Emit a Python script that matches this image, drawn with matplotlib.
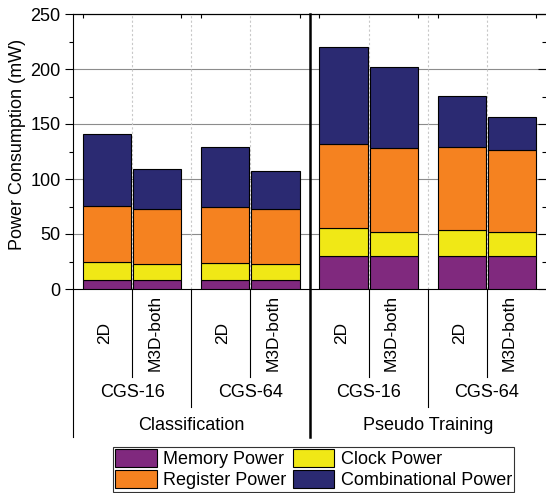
import matplotlib
matplotlib.use("Agg")
import matplotlib.pyplot as plt
import matplotlib.transforms as mtransforms
from matplotlib.patches import Patch
import numpy as np

plt.rcParams["font.family"] = ["Liberation Sans", "DejaVu Sans"]

# --- data -------------------------------------------------------------------
TASKS   = ["Classification", "Pseudo Training"]
CONFIGS = ["CGS-16", "CGS-64"]
DESIGNS = ["2D", "M3D-both"]

# one value per bar, ordered task -> config -> design
memory        = [8.2, 8.0, 8.0, 8.0, 30.3, 30.3, 30.3, 30.3]
clock         = [16.6, 14.4, 15.9, 14.4, 25.4, 21.8, 23.0, 21.2]
register      = [50.7, 50.3, 50.3, 50.0, 75.8, 75.8, 75.5, 74.9]
combinational = [65.5, 36.3, 54.8, 34.6, 88.8, 73.6, 46.7, 30.3]

SERIES = [("Memory Power", memory, "#80297E"),
          ("Clock Power", clock, "#F0E816"),
          ("Register Power", register, "#F58220"),
          ("Combinational Power", combinational, "#2B2A72")]

FS = 13

# --- layout -----------------------------------------------------------------
W, H = 546, 493
fig = plt.figure(figsize=(W / 100, H / 100), dpi=100)
ax = fig.add_axes([73 / W, (H - 289) / H, 473 / W, 275 / H])

n_groups = len(TASKS) * len(CONFIGS)
centers = np.arange(n_groups) + 0.5
off, width = 0.212, 0.407
xs = np.array([c + s * off for c in centers for s in (-1, 1)])

bottom = np.zeros(len(xs))
for name, vals, col in SERIES:
    ax.bar(xs, vals, width, bottom=bottom, color=col, edgecolor="black",
           linewidth=0.8, zorder=3)
    bottom += np.array(vals)

ax.set_xlim(0, n_groups)
ax.set_ylim(0, 250)
ax.set_yticks(np.arange(0, 251, 50))
ax.set_yticks(np.arange(25, 250, 50), minor=True)
ax.tick_params(axis="y", which="major", direction="out", length=6, width=0.8,
               labelsize=FS, pad=3, right=True)
ax.tick_params(axis="y", which="minor", direction="out", length=3, width=0.8,
               right=True)
# right-hand ticks point into the plot
for t in ax.yaxis.get_major_ticks() + ax.yaxis.get_minor_ticks():
    t.tick2line.set_marker(matplotlib.lines.TICKLEFT)
ax.set_ylabel("Power Consumption (mW)", fontsize=FS)
ax.yaxis.set_label_coords(-0.099, 0.525)

# grid: solid horizontal, dashed vertical
for y in range(50, 251, 50):
    ax.axhline(y, color="#8c8c8c", lw=0.8, zorder=1)
for gx in [0.5, 1.0, 1.5, 2.5, 3.0, 3.5]:
    ax.axvline(gx, color="#c8c8c8", lw=0.8, ls=(0, (2, 2)), zorder=1)

# top edge: small inward ticks at the outer edges of each pair
edges = [c + s * (off + width / 2) for c in centers for s in (-1, 1)]
ax.set_xticks([])
top = ax.secondary_xaxis("top")
top.set_xticks(edges)
top.set_xticklabels([])
top.tick_params(direction="in", length=3, width=0.8)

ax.spines["right"].set_visible(False)
for s in ("left", "bottom", "top"):
    ax.spines[s].set_linewidth(0.8)

# hierarchical category labels under the axis
tr = mtransforms.blended_transform_factory(ax.transData, ax.transAxes)
for x, lab in zip(xs, DESIGNS * n_groups):
    ax.text(x - 0.02, -0.16, lab, rotation=90, ha="center", va="center",
            fontsize=FS - 0.5, transform=tr, clip_on=False)
for c, lab in zip(centers, CONFIGS * len(TASKS)):
    ax.text(c, -0.378, lab, ha="center", va="center", fontsize=FS,
            transform=tr, clip_on=False)
for i, lab in enumerate(TASKS):
    ax.text(2 * i + 1, -0.497, lab, ha="center", va="center", fontsize=FS,
            transform=tr, clip_on=False)

for x in centers:
    ax.plot([x, x], [0, -0.32], color="black", lw=0.8, transform=tr, clip_on=False)
for x in [1.0, 3.0]:
    ax.plot([x, x], [0, -0.429], color="black", lw=0.8, transform=tr, clip_on=False)
ax.plot([0, 0], [0, -0.538], color="black", lw=0.8, transform=tr, clip_on=False)
ax.plot([2, 2], [1, -0.538], color="black", lw=1.8, transform=tr, clip_on=False,
        zorder=5)

# legend, filled row by row: Memory/Clock then Register/Combinational
handles = {name: Patch(facecolor=col, edgecolor="black", linewidth=0.8, label=name)
           for name, _, col in SERIES}
order = ["Memory Power", "Register Power", "Clock Power", "Combinational Power"]
leg = fig.legend(handles=[handles[k] for k in order], ncol=2, loc="lower center",
                 bbox_to_anchor=(313.5 / W, 1 / H), fontsize=13,
                 frameon=True, fancybox=False, edgecolor="black",
                 handlelength=2.3, handleheight=1.15, handletextpad=0.35,
                 columnspacing=0.35, labelspacing=0.1, borderpad=0.15,
                 borderaxespad=0)
leg.get_frame().set_linewidth(0.8)

fig.savefig("out.png", dpi=100)
